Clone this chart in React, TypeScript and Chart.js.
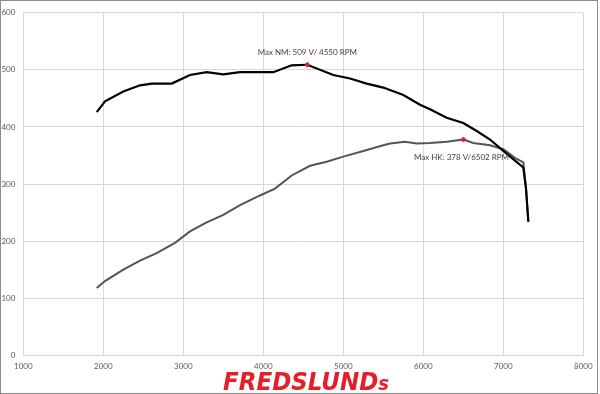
import React, { useEffect, useRef } from "react";
import { Chart, registerables } from "chart.js";
Chart.register(...registerables);

const torqueRpm = [1918, 2021, 2250, 2459, 2605, 2855, 3084, 3292, 3500, 3709, 3917, 4125, 4355, 4550, 4875, 5084, 5292, 5500, 5750, 5959, 6084, 6292, 6500, 6668, 6834, 7000, 7146, 7250, 7284, 7313];
const torqueNm = [426, 445, 462, 473, 476, 476, 491, 496, 492, 496, 496, 496, 508, 509, 491, 485, 476, 469, 456, 439, 431, 416, 407, 393, 378, 358, 341, 329, 292, 234];

const powerRpm = [1918, 2021, 2250, 2459, 2667, 2896, 3084, 3292, 3500, 3709, 3959, 4146, 4355, 4584, 4792, 5000, 5250, 5500, 5584, 5771, 5917, 6084, 6292, 6502, 6625, 6834, 7000, 7146, 7250, 7284, 7313];
const powerHk = [118, 130, 150, 166, 179, 197, 217, 233, 246, 263, 280, 292, 315, 332, 339, 348, 358, 368, 371, 374, 371, 372, 374, 378, 372, 368, 361, 346, 338, 292, 234];

const maxNmRpm = [4550];
const maxNmVal = [509];
const maxNmLabel = "Max NM: 509 V/ 4550 RPM";
const maxHkRpm = [6502];
const maxHkVal = [378];
const maxHkLabel = "Max HK: 378 V/6502 RPM";

const xMin = 1000, xMax = 8000, xStep = 1000;
const yMin = 0, yMax = 600, yStep = 100;

const labelPlugin = {
  id: "maxLabels",
  afterDatasetsDraw(chart: any) {
    const ctx = chart.ctx;
    ctx.save();
    ctx.font = "8px Lato";
    ctx.fillStyle = "#404040";
    ctx.textAlign = "center";
    ctx.textBaseline = "middle";
    const m1 = chart.getDatasetMeta(2).data[0];
    if (m1) ctx.fillText(maxNmLabel, m1.x, m1.y - 12);
    const m2 = chart.getDatasetMeta(3).data[0];
    if (m2) ctx.fillText(maxHkLabel, m2.x - 2, m2.y + 18);
    ctx.restore();
  },
};

export default function App() {
  const ref = useRef<HTMLCanvasElement>(null);
  useEffect(() => {
    if (!ref.current) return;
    const tickFont = { family: "Lato", size: 8 };
    const chart = new Chart(ref.current, {
      type: "line",
      data: {
        datasets: [
          {
            label: "NM",
            data: torqueRpm.map((x, i) => ({ x, y: torqueNm[i] })),
            borderColor: "#000000",
            borderWidth: 2.2,
            pointRadius: 0,
            tension: 0,
            order: 1,
          },
          {
            label: "HK",
            data: powerRpm.map((x, i) => ({ x, y: powerHk[i] })),
            borderColor: "#555555",
            borderWidth: 2,
            pointRadius: 0,
            tension: 0,
            order: 2,
          },
          {
            label: "maxNM",
            data: maxNmRpm.map((x, i) => ({ x, y: maxNmVal[i] })),
            showLine: false,
            pointStyle: "rectRot",
            pointRadius: 2.5,
            backgroundColor: "#e0202a",
            borderColor: "#e0202a",
            order: 0,
          },
          {
            label: "maxHK",
            data: maxHkRpm.map((x, i) => ({ x, y: maxHkVal[i] })),
            showLine: false,
            pointStyle: "rectRot",
            pointRadius: 2.5,
            backgroundColor: "#e0202a",
            borderColor: "#e0202a",
            order: 0,
          },
        ],
      },
      options: {
        animation: false,
        responsive: true,
        maintainAspectRatio: false,
        layout: { padding: { top: 8.5, right: 16.7, left: 0, bottom: 0 } },
        plugins: { legend: { display: false }, tooltip: { enabled: false } },
        scales: {
          x: {
            type: "linear",
            min: xMin,
            max: xMax,
            ticks: {
              stepSize: xStep,
              font: tickFont,
              color: "#595959",
              padding: 6,
              maxRotation: 0,
              callback: (v: any) => String(v),
            },
            grid: { color: "#d9d9d9", drawTicks: false },
            border: { color: "#d9d9d9" },
            afterFit: (s: any) => { s.height = 38.7; },
          },
          y: {
            min: yMin,
            max: yMax,
            ticks: { stepSize: yStep, font: tickFont, color: "#595959", padding: 8, callback: (v: any) => String(v) },
            grid: { color: "#d9d9d9", drawTicks: false },
            border: { color: "#d9d9d9" },
            afterFit: (s: any) => { s.width = 23.3; },
          },
        },
      },
      plugins: [labelPlugin],
    } as any);
    return () => chart.destroy();
  }, []);

  return (
    <div style={{ position: "fixed", left: 0, top: 0, width: 600, height: 394, background: "#fff" }}>
      <canvas ref={ref} style={{ position: "absolute", left: 0, top: 0, width: 600, height: 394 }} />
      <div
        style={{
          position: "absolute",
          left: 206,
          top: 367,
          width: 200,
          textAlign: "center",
          fontFamily: "'DejaVu Sans', sans-serif",
          fontWeight: "bold",
          fontStyle: "italic",
          fontSize: 23,
          lineHeight: "28px",
          color: "#e3202a",
          whiteSpace: "nowrap",
          transform: "scaleY(1.1)",
          transformOrigin: "center",
          letterSpacing: 0,
        }}
      >
        FREDSLUND<span style={{ fontSize: 18 }}>s</span>
      </div>
      <div
        style={{
          position: "absolute",
          left: 0,
          top: 0,
          width: 596,
          height: 392,
          border: "1px solid #8c8c8c",
          pointerEvents: "none",
        }}
      />
    </div>
  );
}
